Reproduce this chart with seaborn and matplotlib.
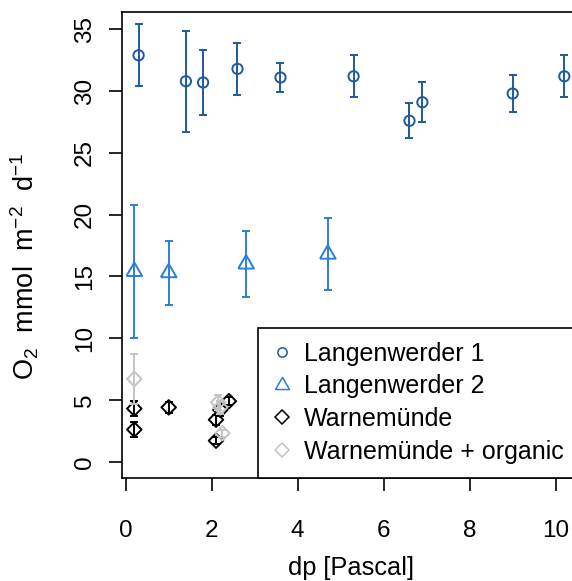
import numpy as np
import pandas as pd
import matplotlib
matplotlib.use("Agg")
import matplotlib.pyplot as plt
import seaborn as sns
from matplotlib.lines import Line2D

# Langenwerder 1
lw1_dp = [0.3, 1.4, 1.8, 2.6, 3.6, 5.3, 6.6, 6.9, 9.0, 10.2]
lw1_o2 = [32.9, 30.8, 30.7, 31.8, 31.1, 31.2, 27.6, 29.1, 29.8, 31.2]
lw1_sd = [2.5, 4.1, 2.6, 2.1, 1.2, 1.7, 1.4, 1.6, 1.5, 1.7]
# Langenwerder 2
lw2_dp = [0.2, 1.0, 2.8, 4.7]
lw2_o2 = [15.4, 15.3, 16.0, 16.8]
lw2_sd = [5.4, 2.6, 2.7, 2.9]
# Warnemünde
wm_dp = [0.2, 0.2, 1.0, 2.1, 2.1, 2.2, 2.4]
wm_o2 = [4.3, 2.6, 4.4, 1.7, 3.4, 4.2, 4.9]
wm_sd = [0.6, 0.6, 0.45, 0.3, 0.4, 0.5, 0.3]
# Warnemünde + organic
wo_dp = [0.2, 2.15, 2.2, 2.25]
wo_o2 = [6.7, 4.8, 4.4, 2.3]
wo_sd = [2.0, 0.6, 0.5, 0.3]

sites = ["Langenwerder 1", "Langenwerder 2", "Warnemünde", "Warnemünde + organic"]
x_ticks = [0, 2, 4, 6, 8, 10]
y_ticks = [0, 5, 10, 15, 20, 25, 30, 35]

frames = []
for name, dp, o2, sd in zip(sites,
                            [lw1_dp, lw2_dp, wm_dp, wo_dp],
                            [lw1_o2, lw2_o2, wm_o2, wo_o2],
                            [lw1_sd, lw2_sd, wm_sd, wo_sd]):
    frames.append(pd.DataFrame({"site": name, "dp": dp, "o2": o2, "sd": sd}))
df = pd.concat(frames, ignore_index=True)

# equilateral triangle centred on its centroid
tri = [(-1.0, -0.5774), (1.0, -0.5774), (0.0, 1.1547), (-1.0, -0.5774)]

style = {
    "Langenwerder 1": dict(color="#1f5a9c", marker="o", ms=7.4),
    "Langenwerder 2": dict(color="#2a7fd6", marker=tri, ms=13.0),
    "Warnemünde": dict(color="#000000", marker="D", ms=7.4),
    "Warnemünde + organic": dict(color="#c4c4c4", marker="D", ms=7.4),
}

sns.set_theme(style="white")
plt.rcParams["font.family"] = ["Liberation Sans", "DejaVu Sans"]
plt.rcParams["mathtext.fontset"] = "custom"
plt.rcParams["mathtext.rm"] = "Liberation Sans"
plt.rcParams["mathtext.it"] = "Liberation Sans:italic"

W, H = 572, 581
fig = plt.figure(figsize=(W / 100, H / 100), dpi=100)
left_px, right_px, top_px, bot_px = 121.7, 580.0, 12.3, 477.7
ax = fig.add_axes([left_px / W, 1 - bot_px / H,
                   (right_px - left_px) / W, (bot_px - top_px) / H])

lw = 1.4
order = ["Langenwerder 1", "Langenwerder 2", "Warnemünde", "Warnemünde + organic"]
for z, site in enumerate(order):
    sub = df[df["site"] == site]
    st = style[site]
    ax.errorbar(sub["dp"], sub["o2"], yerr=sub["sd"], fmt="none",
                ecolor=st["color"], elinewidth=lw, capsize=2.8, capthick=lw,
                zorder=2 + 2 * z)
    sns.scatterplot(data=sub, x="dp", y="o2", marker=st["marker"],
                    s=st["ms"] ** 2, facecolor="none", edgecolor=st["color"],
                    linewidth=lw, ax=ax, legend=False, zorder=3 + 2 * z)

ax.set_xlim(-0.093, -0.093 + (right_px - left_px) / 43.0)
ax.set_ylim(-1.295, 36.38)
ax.set_xticks(x_ticks)
ax.set_yticks(y_ticks)
ax.set_xticklabels([str(t) for t in x_ticks])
ax.set_yticklabels([str(t) for t in y_ticks], rotation=90, va="center")

for sp in ax.spines.values():
    sp.set_color("black")
    sp.set_linewidth(1.2)
ax.tick_params(axis="both", which="major", direction="out", length=9.5,
               width=1.2, color="black", labelsize=17.5, labelcolor="black",
               bottom=True, left=True)
ax.tick_params(axis="x", pad=21)
ax.tick_params(axis="y", pad=9)

ax.set_xlabel("dp [Pascal]", fontsize=18.3, color="black", labelpad=10)
ax.set_ylabel(r"$\mathregular{O_2\ \ mmol\ \ m^{-2}\ \ d^{-1}}$",
              fontsize=19.5, color="black")
ax.yaxis.set_label_coords(-0.175, 0.455)

handles = [Line2D([], [], linestyle="none", marker=style[s]["marker"],
                  markersize=style[s]["ms"] * 0.9, markerfacecolor="none",
                  markeredgecolor=style[s]["color"], markeredgewidth=1.1)
           for s in order]
x0 = (258 - left_px) / (right_px - left_px)
leg = ax.legend(handles, order, loc="lower left",
                bbox_to_anchor=(x0, 0, 1 - x0, 0.3), mode="expand",
                borderaxespad=0, fontsize=18, frameon=True, fancybox=False,
                edgecolor="black", framealpha=1, borderpad=0.55,
                handlelength=0.8, handletextpad=0.5, labelspacing=0.35)
leg.get_frame().set_linewidth(1.2)
for t in leg.get_texts():
    t.set_color("black")

fig.savefig("out.png", dpi=100)
